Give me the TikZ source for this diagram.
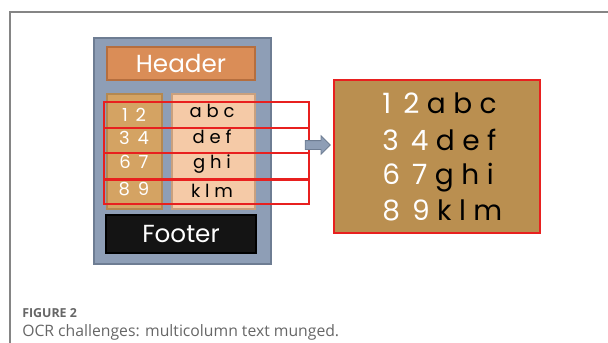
\documentclass[tikz,border=0pt]{standalone}
\usepackage{fontspec}
\setmainfont{Poppins}
\newfontfamily\capfont{Open Sans}
\usetikzlibrary{shapes.arrows}

\definecolor{panelgray}{HTML}{8E9EB6}
\definecolor{paneledge}{HTML}{6E7D93}
\definecolor{hdrorange}{HTML}{DA8D57}
\definecolor{hdredge}{HTML}{B56E3E}
\definecolor{coltan}{HTML}{D4A363}
\definecolor{coltanedge}{HTML}{B48850}
\definecolor{colpeach}{HTML}{F5CAA7}
\definecolor{colpeachedge}{HTML}{C9A07E}
\definecolor{outbrown}{HTML}{BA8F50}
\definecolor{ocrred}{HTML}{E8201F}
\definecolor{captiongray}{HTML}{666666}

\tikzset{
  block/.style={draw, line width=1.2pt, anchor=north west, inner sep=0pt},
  rowbox/.style={draw=ocrred, line width=1.3pt, anchor=north west, inner sep=0pt,
                 minimum width=205*0.75pt},
  celltext/.style={font=\fontsize{13.5}{13.5}\selectfont},
  bigtext/.style={text=white, font=\fontsize{18.5}{18.5}\selectfont, anchor=center},
}

\begin{document}
\begin{tikzpicture}[x=0.75pt, y=-0.75pt]
  \useasboundingbox (0,0) rectangle (608,343);

  % frame
  \draw[captiongray!80, line width=0.8pt] (10,343) -- (10,12) -- (608,12);

  % page layout
  \node[block, draw=paneledge, fill=panelgray, minimum width=177*0.75pt, minimum height=226*0.75pt] (page) at (93,37) {};
  \node[block, draw=hdredge, fill=hdrorange, minimum width=148*0.75pt, minimum height=33*0.75pt, bigtext] (header) at (181,63.5) {Header};
  \node[block, draw=coltanedge, fill=coltan, minimum width=55*0.75pt, minimum height=115*0.75pt] (numcol) at (106,93) {};
  \node[block, draw=colpeachedge, fill=colpeach, minimum width=83*0.75pt, minimum height=115*0.75pt] (txtcol) at (171,93) {};
  \node[block, draw=black, fill=black!92, minimum width=150*0.75pt, minimum height=38*0.75pt, bigtext] (footer) at (181,234) {Footer};

  % column contents
  \node[celltext, text=white] (n1) at (134,115) {1\ \,2};
  \node[celltext, text=white] (n2) at (134,138) {3\ \,4};
  \node[celltext, text=white] (n3) at (134,162) {6\ \,7};
  \node[celltext, text=white] (n4) at (134,189) {8\ \,9};
  \node[celltext] (t1) at (212,111) {a b c};
  \node[celltext] (t2) at (212,137) {d e f};
  \node[celltext] (t3) at (212,164) {g h i};
  \node[celltext] (t4) at (212,191) {k l m};

  % scan lines across both columns
  \node[rowbox, minimum height=26*0.75pt] (r1) at (103,101) {};
  \node[rowbox, minimum height=25*0.75pt] (r2) at (103,127) {};
  \node[rowbox, minimum height=26*0.75pt] (r3) at (103,152) {};
  \node[rowbox, minimum height=24*0.75pt] (r4) at (103,179) {};

  % arrow
  \node[single arrow, draw=paneledge, fill=panelgray, line width=0.6pt, minimum height=25*0.75pt,
        inner sep=3pt, single arrow head extend=3.6pt] (go) at (315.5,145) {};

  % OCR output
  \node[block, draw=ocrred, fill=outbrown, line width=1.5pt, minimum width=206*0.75pt, minimum height=153*0.75pt] (out) at (333,79) {};
  \foreach \a/\b/\t/\y [count=\i] in {1/2/a b c/113, 3/4/d e f/150, 6/7/g h i/184, 8/9/k l m/220} {
    \node[anchor=base west, font=\fontsize{21}{21}\selectfont, inner sep=0pt] (o\i) at (382,\y)
      {\textcolor{white}{\a\ \,\b} \t};
  }

  % caption
  \node[anchor=west, inner sep=0pt, text=captiongray, font=\capfont\bfseries\fontsize{9.3}{10}\selectfont] (fig) at (22,313) {FIGURE 2};
  \node[anchor=west, inner sep=0pt, text=captiongray, font=\capfont\fontsize{11.8}{13}\selectfont] (cap) at (22,332) {OCR challenges: multicolumn text munged.};
\end{tikzpicture}
\end{document}
